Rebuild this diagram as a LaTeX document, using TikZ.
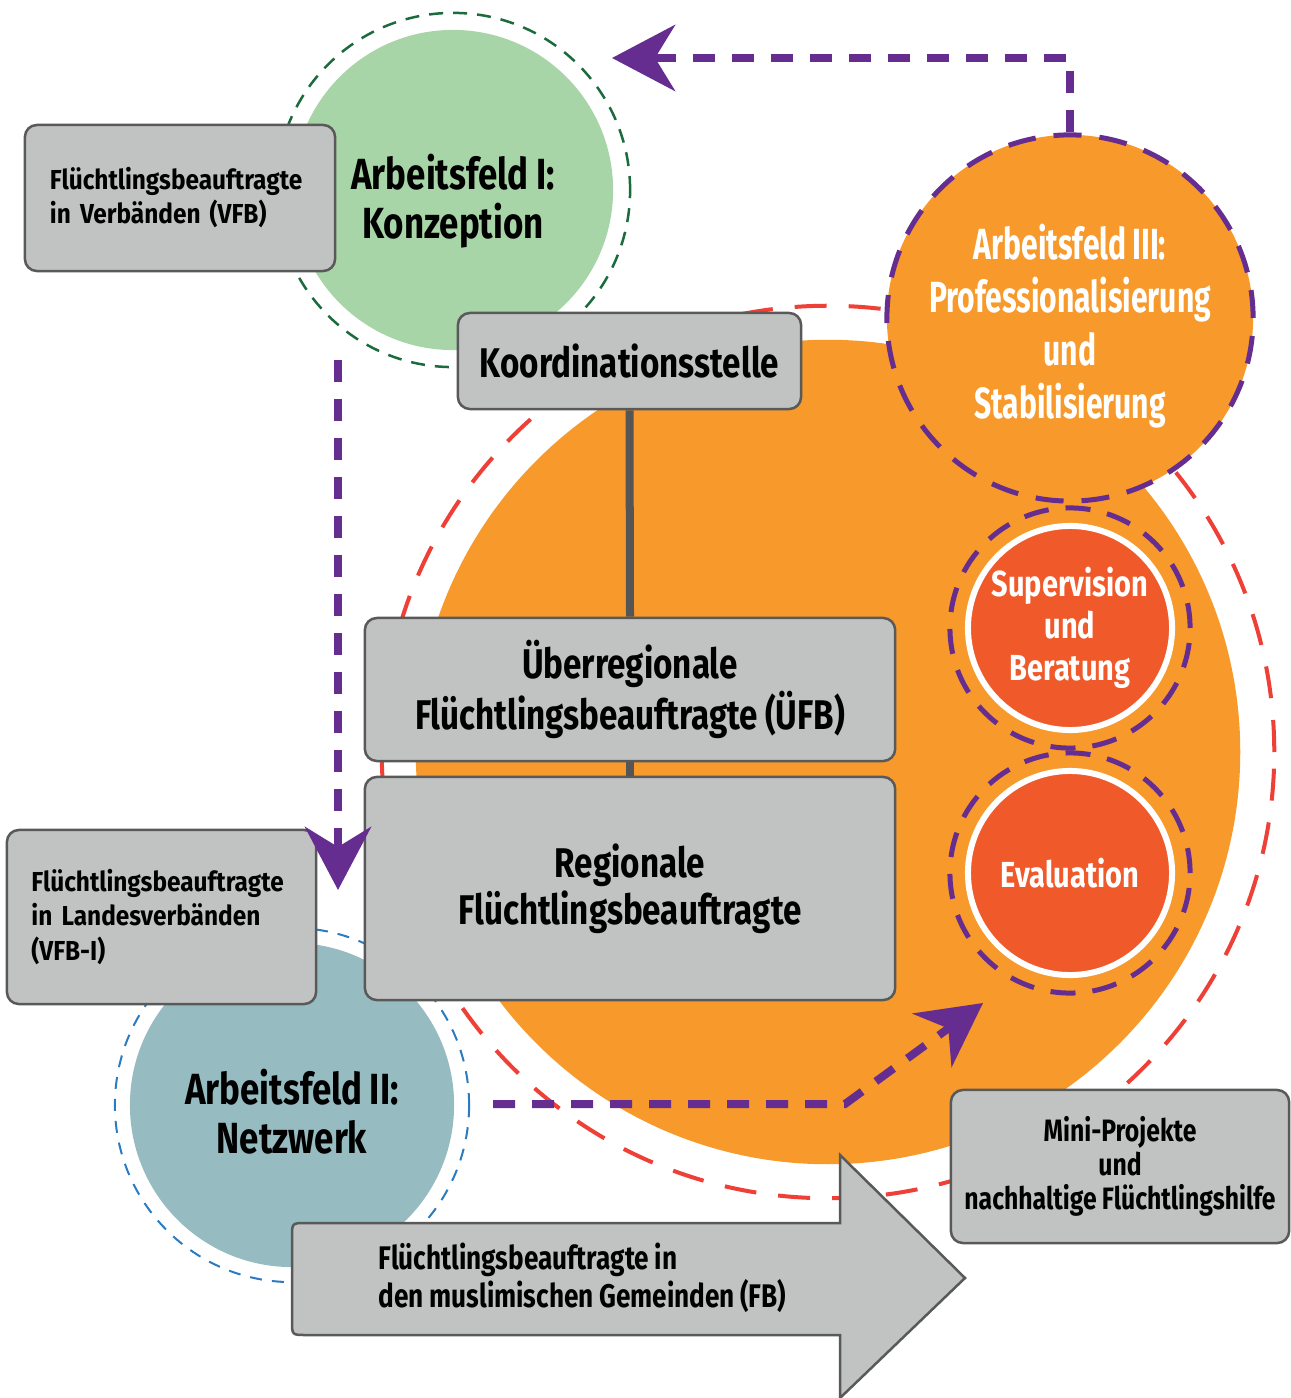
\documentclass[tikz,border=0pt]{standalone}
\usepackage{fontspec}
\setmainfont{Fira Sans}[FakeStretch=0.8, WordSpace=0.9]
\newfontfamily\slimfont{Fira Sans}[FakeStretch=0.69, WordSpace=0.8]
\newfontfamily\boxfont{Fira Sans}[FakeStretch=0.89, WordSpace=0.6]
\usetikzlibrary{arrows.meta}

\definecolor{orng}{HTML}{F7992B}
\definecolor{suborange}{HTML}{F05A2B}
\definecolor{afgreen}{HTML}{A8D5A8}
\definecolor{ringgreen}{HTML}{1B6B3F}
\definecolor{afblue}{HTML}{96BCC2}
\definecolor{ringblue}{HTML}{2A7BC0}
\definecolor{ringred}{HTML}{EE4036}
\definecolor{purp}{HTML}{662D91}
\definecolor{boxgray}{HTML}{C1C3C2}
\definecolor{boxline}{HTML}{595959}
\definecolor{connline}{HTML}{555555}

\begin{document}
\begin{tikzpicture}[x=0.01cm, y=-0.01cm,
    box/.style={draw=boxline, fill=boxgray, line width=0.025cm, rounded corners=0.12cm, inner sep=0pt},
    bigtext/.style={font=\bfseries\fontsize{11.8}{13.4}\selectfont, align=center},
    smalltext/.style={font=\boxfont\bfseries\fontsize{7.8}{9.7}\selectfont},
    field/.style={circle, inner sep=0pt},
    fieldtext/.style={inner sep=0pt, align=center, font=\bfseries\fontsize{12.4}{14}\selectfont},
    ring/.style={dash pattern=on 0.14cm off 0.1cm, line width=0.025cm},
    sub/.style={circle, fill=suborange, draw=white, line width=0.06cm, minimum size=2.04cm, inner sep=0pt,
      align=center, text=white, font=\bfseries\fontsize{10.3}{12}\selectfont},
    subring/.style={draw=purp, line width=0.05cm, dash pattern=on 0.25cm off 0.17cm},
    flow/.style={draw=purp, line width=0.08cm, dash pattern=on 0.22cm off 0.17cm,
      -{Stealth[length=0.63cm,width=0.66cm,inset=0.2cm]}},
    conn/.style={draw=connline, line width=0.08cm}]
  \useasboundingbox (0,0) rectangle (1290,1398);

  % circles in the back
  \draw[ringred, line width=0.04cm, dash pattern=on 0.32cm off 0.22cm] (828,752) circle (4.46cm);
  \node[circle, fill=orng, minimum size=8.24cm] (core) at (828,752) {};
  \node[field, fill=afgreen, minimum size=3.2cm] (af1) at (453,190) {};
  \draw[ring, draw=ringgreen] (af1.center) circle (1.77cm);
  \node[fieldtext] (af1t) at ([yshift=-0.11cm]af1.center) {Arbeitsfeld I:\\Konzeption};
  \node[field, fill=afblue, minimum size=3.24cm] (af2) at (292,1105) {};
  \draw[ring, draw=ringblue, line width=0.02cm, dash pattern=on 0.12cm off 0.1cm] (af2.center) circle (1.77cm);
  \node[fieldtext] (af2t) at ([yshift=-0.07cm]af2.center) {Arbeitsfeld II:\\Netzwerk};
  \node[field, fill=orng, draw=purp, line width=0.05cm, dash pattern=on 0.28cm off 0.18cm,
    minimum size=3.66cm] (af3) at (1070,318) {};
  \node[fieldtext, text=white, font=\slimfont\bfseries\fontsize{12.4}{15.1}\selectfont] (af3t)
    at ([yshift=-0.08cm]af3.center) {Arbeitsfeld III:\\Professionalisierung\\und\\Stabilisierung};
  \node[sub] (sup) at (1070,628) {Supervision\\und\\Beratung};
  \draw[subring] (sup.center) circle (1.2cm);
  \node[sub] (eval) at (1070,873) {Evaluation};
  \draw[subring] (eval.center) circle (1.2cm);

  % boxes
  \node[box, bigtext, minimum width=3.43cm, minimum height=0.96cm] (koord) at (629.5,361) {Koordinationsstelle};
  \node[box, bigtext, minimum width=5.3cm, minimum height=1.43cm] (uefb) at (630,689.5)
    {Überregionale\\Flüchtlingsbeauftragte (ÜFB)};
  \node[box, bigtext, minimum width=5.3cm, minimum height=2.23cm] (reg) at (630,888.5)
    {Regionale\\Flüchtlingsbeauftragte};
  \draw[conn] (koord.south) -- (uefb.north);
  \draw[conn] (uefb.south) -- (reg.north);
  \node[box, smalltext, text width=2.6cm, inner xsep=0.25cm, minimum height=1.46cm, align=left] (vfb) at (180,198)
    {Flüchtlingsbeauftragte\\in Verbänden (VFB)};
  \node[box, smalltext, text width=2.6cm, inner xsep=0.245cm, minimum height=1.74cm, align=left] (vfbl) at (161.5,917)
    {Flüchtlingsbeauftragte\\in Landesverbänden\\(VFB-I)};
  \node[box, font=\bfseries\fontsize{8.8}{9.6}\selectfont, minimum width=3.38cm, minimum height=1.53cm, align=center]
    (mini) at (1120,1166.5) {Mini-Projekte\\und\\nachhaltige Flüchtlingshilfe};

  % big arrow
  \draw[draw=boxline, fill=boxgray, line width=0.025cm]
    (840,1223) -- (840,1155) -- (965,1278) -- (840,1398) -- (840,1335) -- (306,1335)
    .. controls (292,1335) .. (292,1321) -- (292,1237)
    .. controls (292,1223) .. (306,1223) -- cycle;
  \node[anchor=west, align=left, font=\bfseries\fontsize{9.3}{10.8}\selectfont, inner sep=0pt] (fb) at (378,1278)
    {Flüchtlingsbeauftragte in\\den muslimischen Gemeinden (FB)};

  % purple flows
  \coordinate (tipI) at (612,58);
  \coordinate (downS) at (338,360);
  \coordinate (downE) at (338,890);
  \coordinate (netS) at (493,1104);
  \coordinate (netM) at (845,1104);
  \coordinate (netE) at (983,1003);
  \draw[flow] (af3.north) -- (af3.north |- tipI) -- (tipI);
  \draw[flow] (downS) -- (downE);
  \draw[flow] (netS) -- (netM) -- (netE);
\end{tikzpicture}
\end{document}
